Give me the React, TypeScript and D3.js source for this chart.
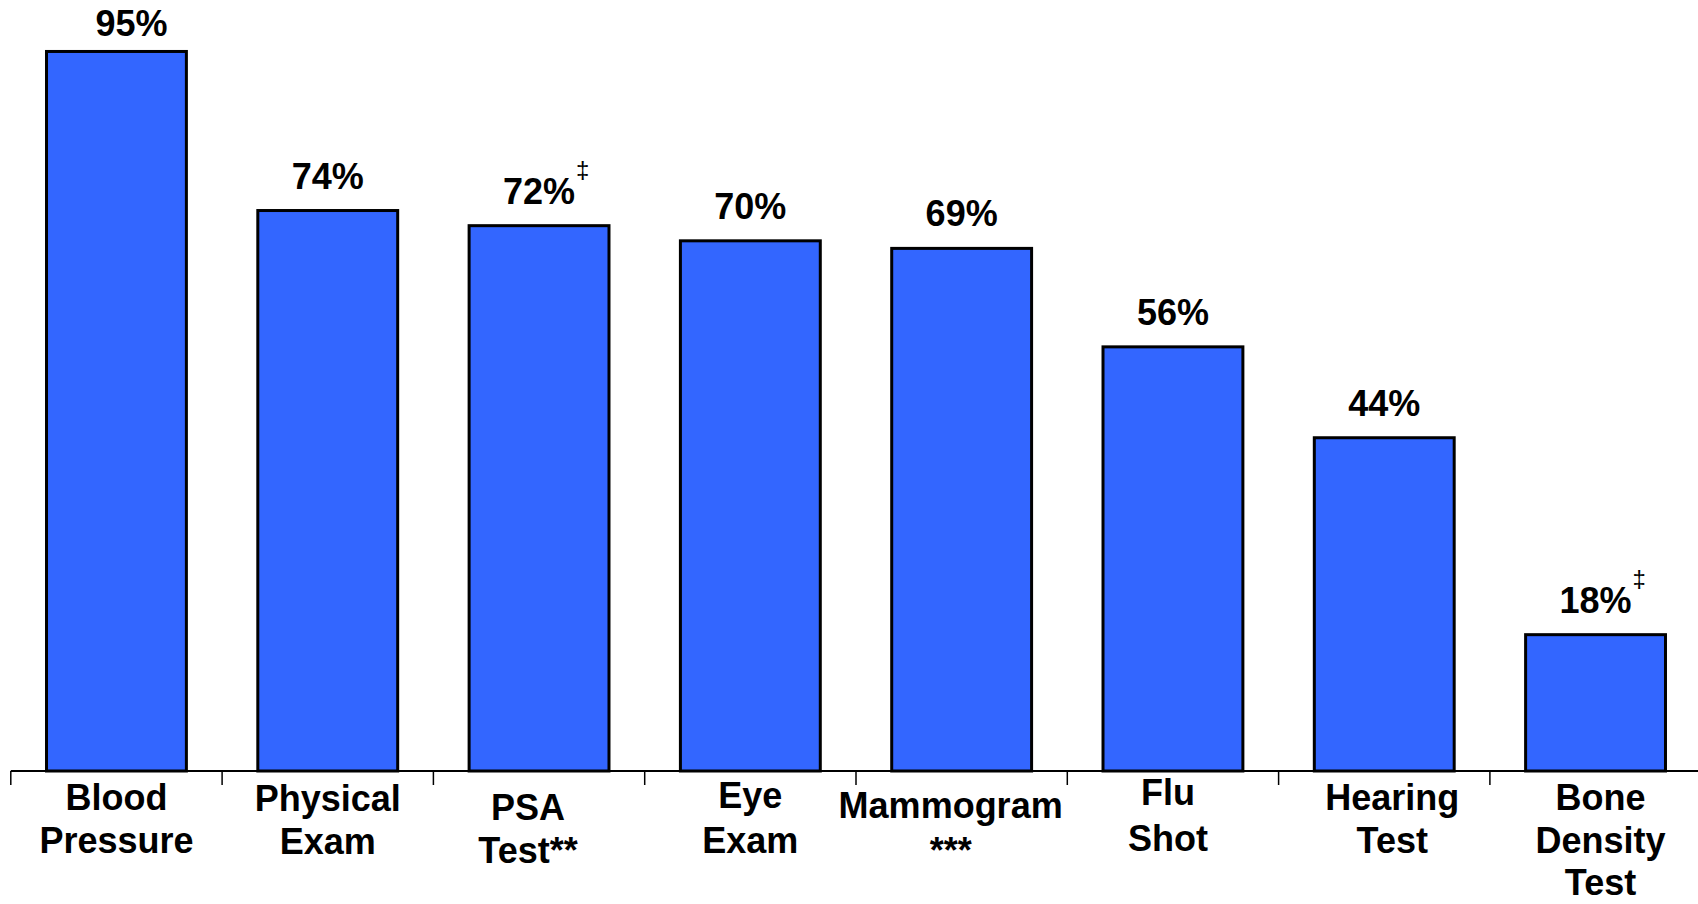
import React from "react";
import * as d3 from "d3";

const categories: string[][] = [
  ["Blood", "Pressure"],
  ["Physical", "Exam"],
  ["PSA", "Test**"],
  ["Eye", "Exam"],
  ["Mammogram", "***"],
  ["Flu", "Shot"],
  ["Hearing", "Test"],
  ["Bone", "Density", "Test"],
];
const values: number[] = [95, 74, 72, 70, 69, 56, 44, 18];
const valueMarks: string[] = ["", "", "‡", "", "", "", "", "‡"];

// layout nudges (px)
const catDx = [0, 0, -11, 0, -11, -5, 8, 5];
const catBaseline = [810, 811, 820, 808, 818, 805, 810, 810];
const catLineGap = [43, 43, 43, 45, 45, 46, 43, 42.5];
const valDx = [15, 0, 0, 0, 0, 0, 0, 0];
const valDy = [7, 0, 0, 0, 0, 0, 0, 0];

const W = 1698;
const H = 904;
const FONT = "'Liberation Sans', Arial, Helvetica, sans-serif";

export default function App() {
  const ids = categories.map((_, i) => String(i));
  const x = d3
    .scaleBand<string>()
    .domain(ids)
    .range([10.8, 1701.2])
    .paddingInner(0.338)
    .paddingOuter(0.169);
  const y = d3.scaleLinear().domain([0, 100]).range([771, 13.6]);
  const step = x.step();
  const bw = x.bandwidth();
  const gap = (step - bw) / 2;
  const ticks = d3.range(ids.length + 1).map((i) =>
    i < ids.length ? (x(ids[i]) as number) - gap : (x(ids[ids.length - 1]) as number) + bw + gap
  );
  const y0 = y(0);

  return (
    <svg
      width={W}
      height={H}
      style={{ position: "absolute", left: 0, top: 0, background: "#fff" }}
      fontFamily={FONT}
    >
      <rect x={0} y={0} width={W} height={H} fill="#fff" />
      {values.map((v, i) => (
        <rect
          key={"b" + i}
          x={x(ids[i])}
          y={y(v)}
          width={bw}
          height={y0 - y(v)}
          fill="#3366FF"
          stroke="#000"
          strokeWidth={3}
        />
      ))}
      <line x1={ticks[0]} x2={W} y1={y0} y2={y0} stroke="#000" strokeWidth={2} />
      {ticks.map((t, i) => (
        <line key={"t" + i} x1={t} x2={t} y1={y0} y2={y0 + 14} stroke="#000" strokeWidth={1.5} />
      ))}
      {values.map((v, i) => {
        const cx = (x(ids[i]) as number) + bw / 2 + valDx[i];
        const by = y(v) - 22 + valDy[i];
        return (
          <g key={"v" + i}>
            <text x={cx} y={by} textAnchor="middle" fontSize={36} fontWeight="bold" fill="#000">
              {v + "%"}
            </text>
            {valueMarks[i] && (
              <text x={cx + 37} y={by - 26} textAnchor="start" fontSize={24} fill="#000">
                {valueMarks[i]}
              </text>
            )}
          </g>
        );
      })}
      {categories.map((lines, i) => {
        const cx = (x(ids[i]) as number) + bw / 2 + catDx[i];
        return (
          <text key={"c" + i} textAnchor="middle" fontSize={36} fontWeight="bold" fill="#000">
            {lines.map((l, j) => (
              <tspan key={j} x={cx} y={catBaseline[i] + j * catLineGap[i]}>
                {l}
              </tspan>
            ))}
          </text>
        );
      })}
    </svg>
  );
}
